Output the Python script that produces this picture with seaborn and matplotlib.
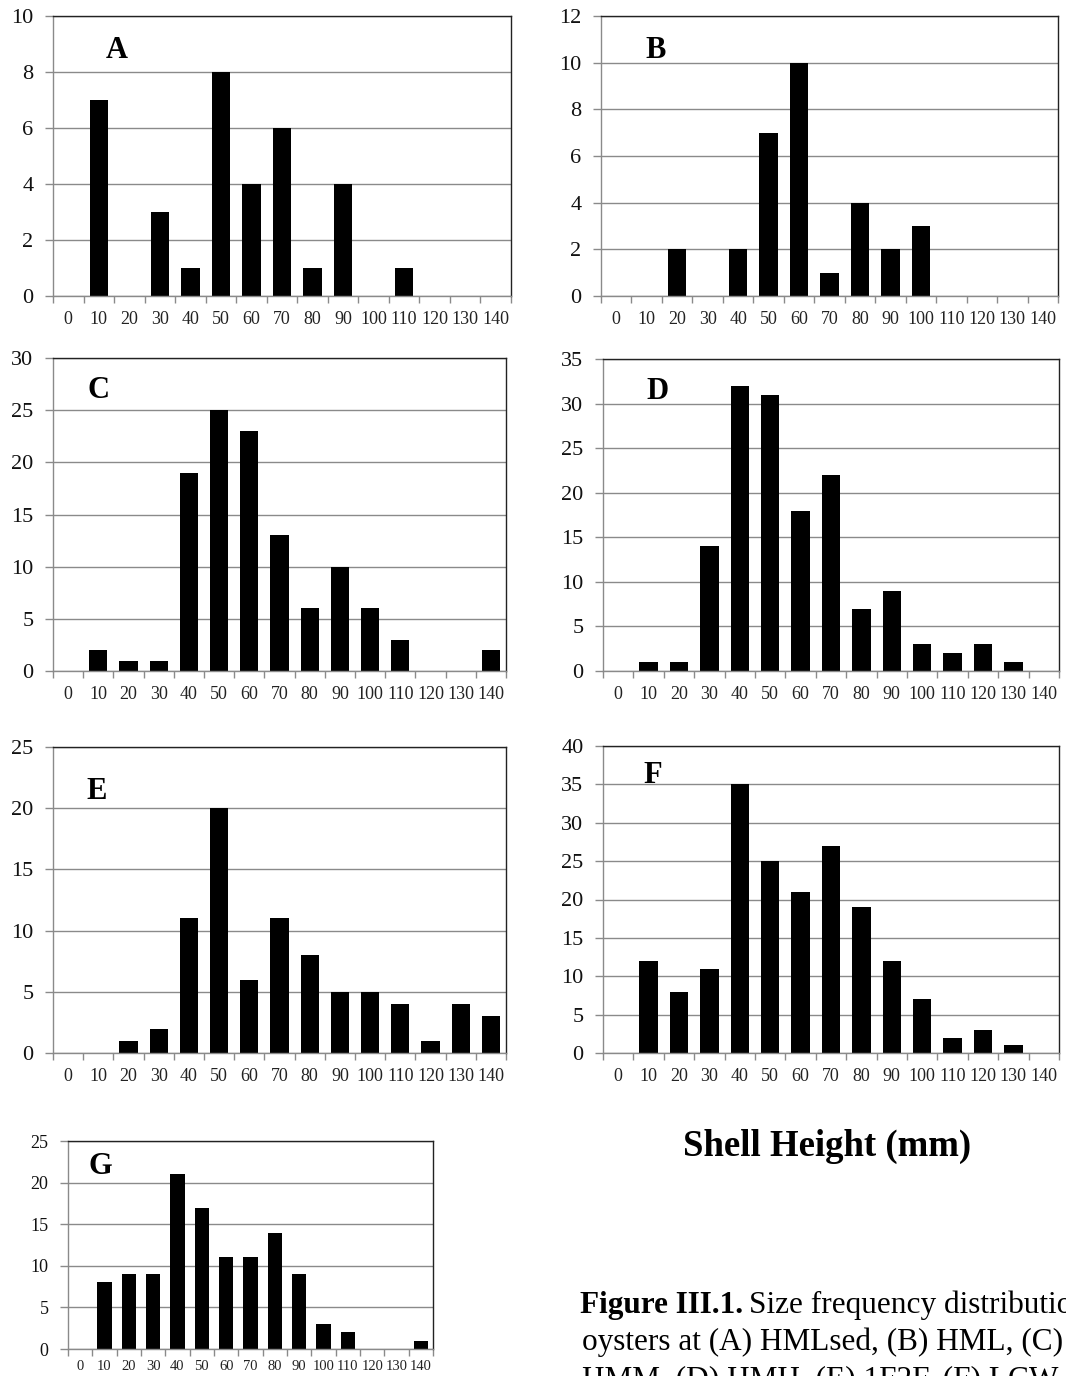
import numpy as np
import pandas as pd
import matplotlib
matplotlib.use("Agg")
import matplotlib.pyplot as plt
import seaborn as sns

# ---- data ----
categories = ["0", "10", "20", "30", "40", "50", "60", "70", "80", "90",
              "100", "110", "120", "130", "140"]
panel_letters = ["A", "B", "C", "D", "E", "F", "G"]
counts_A = [0, 7, 0, 3, 1, 8, 4, 6, 1, 4, 0, 1, 0, 0, 0]
counts_B = [0, 0, 2, 0, 2, 7, 10, 1, 4, 2, 3, 0, 0, 0, 0]
counts_C = [0, 2, 1, 1, 19, 25, 23, 13, 6, 10, 6, 3, 0, 0, 2]
counts_D = [0, 1, 1, 14, 32, 31, 18, 22, 7, 9, 3, 2, 3, 1, 0]
counts_E = [0, 0, 1, 2, 11, 20, 6, 11, 8, 5, 5, 4, 1, 4, 3]
counts_F = [0, 12, 8, 11, 35, 25, 21, 27, 19, 12, 7, 2, 3, 1, 0]
counts_G = [0, 8, 9, 9, 21, 17, 11, 11, 14, 9, 3, 2, 0, 0, 1]
y_max = [10, 12, 30, 35, 25, 40, 25]
y_step = [2, 2, 5, 5, 5, 5, 5]
x_title = "Shell Height (mm)"
caption_bold = "Figure III.1."
caption_line1 = "Size frequency distribution of"
caption_line2 = "oysters at (A) HMLsed, (B) HML, (C)"
caption_line3 = "HMM, (D) HMH, (E) 1F2F, (F) LCW"

all_counts = [counts_A, counts_B, counts_C, counts_D, counts_E, counts_F, counts_G]

# ---- style ----
sns.set_theme(style="white")
plt.rcParams["font.family"] = ["Liberation Serif", "DejaVu Serif"]

W, H = 1066, 1376
fig = plt.figure(figsize=(W / 100, H / 100), dpi=100)

# pixel boxes: left, right, top, bottom
boxes = [
    (53, 511, 16, 296),
    (601, 1058, 16, 296),
    (53, 506, 358, 671),
    (603, 1059, 359, 671),
    (53, 506, 747, 1053),
    (603, 1059, 746, 1053),
    (68, 433, 1141, 1349),
]
letter_pos = [(0.14, 0.875), (0.12, 0.875), (0.10, 0.895), (0.12, 0.895),
              (0.097, 0.855), (0.11, 0.905), (0.088, 0.875)]

grid_col = "#8a8a8a"
for i, (counts, box) in enumerate(zip(all_counts, boxes)):
    l, r, t, b = box
    ax = fig.add_axes([l / W, (H - b) / H, (r - l) / W, (b - t) / H])
    df = pd.DataFrame({"size": categories, "count": counts})
    sns.barplot(data=df, x="size", y="count", order=categories, color="black",
                saturation=1, width=0.6, ax=ax, edgecolor="black", linewidth=0)
    ax.set_xlim(-0.5, len(categories) - 0.5)
    ax.set_ylim(0, y_max[i])
    ax.set_yticks(np.arange(0, y_max[i] + 0.1, y_step[i]))
    ax.set_xticks(np.arange(len(categories)))
    ax.set_xticklabels(categories)
    ax.set_xticks(np.arange(-0.5, len(categories), 1), minor=True)
    ax.set_xlabel("")
    ax.set_ylabel("")
    ax.set_axisbelow(True)
    ax.yaxis.grid(True, color=grid_col, lw=1)
    ax.xaxis.grid(False)
    small = (i == 6)
    yfs = 13 if small else 16
    xfs = 10.5 if small else 13
    ax.tick_params(axis="y", which="major", direction="out", length=6, width=1,
                   color=grid_col, labelsize=yfs, pad=8, left=True, labelcolor="#111")
    ax.tick_params(axis="x", which="major", length=0, labelsize=xfs,
                   pad=(8 if small else 11), labelcolor="#222")
    ax.tick_params(axis="x", which="minor", direction="out", length=5, width=1,
                   color=grid_col, bottom=True)
    for side in ["left", "bottom"]:
        ax.spines[side].set_color(grid_col)
        ax.spines[side].set_linewidth(1)
    for side in ["top", "right"]:
        ax.spines[side].set_color("#222222")
        ax.spines[side].set_linewidth(1)
        ax.spines[side].set_visible(True)
    lx, ly = letter_pos[i]
    ax.text(lx, ly, panel_letters[i], transform=ax.transAxes, ha="center",
            va="center", fontsize=22, fontweight="bold", color="black")

# x title
fig.text(827 / W, 1 - 1146 / H, x_title, ha="center", va="center",
         fontsize=26.5, fontweight="bold", color="black")

# caption (clipped at the right edge as in the original)
cfs = 22.5
x0 = 580 / W
t1 = fig.text(x0, 1 - 1313 / H, caption_bold, ha="left", va="baseline",
              fontsize=cfs, fontweight="bold", color="black")
fig.canvas.draw()
bb = t1.get_window_extent()
x1 = (bb.x1 + 6) / W
fig.text(x1, 1 - 1313 / H, caption_line1, ha="left", va="baseline",
         fontsize=cfs, color="black")
fig.text(582 / W, 1 - 1350 / H, caption_line2, ha="left", va="baseline",
         fontsize=cfs, color="black")
fig.text(582 / W, 1 - 1387 / H, caption_line3, ha="left", va="baseline",
         fontsize=cfs, color="black")

fig.savefig("out.png", dpi=100)
